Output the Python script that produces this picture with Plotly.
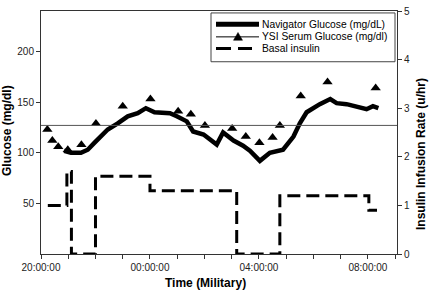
import plotly.graph_objects as go

# ---- data ----
nav_times = ["20:51", "21:06", "21:28", "21:43", "21:58", "22:12", "22:27", "22:49",
             "23:11", "23:33", "23:51", "00:10", "00:24", "00:44", "00:59", "01:21",
             "01:35", "01:58", "02:27", "02:41", "03:04", "03:25", "03:40", "04:02",
             "04:24", "04:53", "05:16", "05:30", "05:45", "06:14", "06:37", "06:51",
             "07:13", "07:35", "07:57", "08:11", "08:23"]
nav_glucose = [102, 100, 100, 103, 110, 116, 123, 129,
               136, 139, 144, 140, 140, 139, 136, 131,
               121, 118, 108, 120, 112, 107, 102, 92,
               100, 103, 116, 129, 140, 148, 153, 149,
               148, 146, 143, 146, 144]

ysi_times = ["20:14", "20:25", "20:38", "20:59", "21:29", "22:01", "23:00", "00:01",
             "01:02", "01:30", "02:01", "03:01", "03:31", "04:01", "04:30", "04:46",
             "05:32", "06:31", "08:17"]
ysi_glucose = [123, 112, 106, 103, 108, 129, 146, 153,
               141, 138, 127, 124, 116, 110, 115, 127,
               156, 170, 164]

insulin_times = ["20:15", "20:57", "21:07", "22:00", "00:00", "03:11", "04:46", "08:02", "08:20"]
insulin_rate = [1.0, 1.7, 0.0, 1.6, 1.3, 0.0, 1.2, 0.9, 0.9]

reference_glucose = 127

x_start, x_end = "20:00", "09:04"
tick_labels = ["20:00:00", "00:00:00", "04:00:00", "08:00:00"]
left_ticks = [50, 100, 150, 200]
right_ticks = [0, 1, 2, 3, 4, 5]
legend_labels = ["Navigator Glucose (mg/dL)", "YSI Serum Glucose (mg/dl)", "Basal insulin"]


def to_dt(t):
    h = int(t.split(":")[0])
    day = "2000-01-01" if h >= 20 else "2000-01-02"
    return f"{day} {t}"


FONT = "Liberation Sans, Arial, sans-serif"

# plot area in pixels: x 41..397, y 5..254
PL, PR, PT, PB = 41, 397, 5, 254


def px(xp):
    return (xp - PL) / (PR - PL)


def py(yp):
    return (PB - yp) / (PB - PT)


fig = go.Figure()

fig.add_trace(go.Scatter(
    x=[to_dt(t) for t in nav_times], y=nav_glucose, mode="lines",
    line=dict(color="black", width=4.5), name=legend_labels[0], showlegend=False))

fig.add_trace(go.Scatter(
    x=[to_dt(t) for t in ysi_times], y=ysi_glucose, mode="markers",
    marker=dict(symbol="triangle-up", size=9, color="black"),
    name=legend_labels[1], showlegend=False))

fig.add_trace(go.Scatter(
    x=[to_dt(t) for t in insulin_times], y=insulin_rate, mode="lines",
    line=dict(color="black", width=3, dash="13px,6px", shape="hv"),
    yaxis="y2", name=legend_labels[2], showlegend=False))

fig.add_shape(type="line", xref="paper", x0=0, x1=1, yref="y",
              y0=reference_glucose, y1=reference_glucose,
              line=dict(color="#555555", width=1))

# ---- legend box (drawn by hand for compact row spacing) ----
fig.add_shape(type="rect", xref="paper", yref="paper",
              x0=px(211), x1=px(395), y0=py(57), y1=py(7),
              line=dict(color="#444444", width=1), fillcolor="white")
rows = [18.5, 31.5, 43.5]
fig.add_shape(type="line", xref="paper", yref="paper",
              x0=px(216), x1=px(259), y0=py(rows[0]), y1=py(rows[0]),
              line=dict(color="black", width=5))
fig.add_shape(type="line", xref="paper", yref="paper",
              x0=px(216), x1=px(259), y0=py(rows[1]), y1=py(rows[1]),
              line=dict(color="black", width=1))
cx, cy = 238, rows[1]
fig.add_shape(type="path", xref="paper", yref="paper",
              path=f"M {px(cx-4.5)},{py(cy+3.5)} L {px(cx+4.5)},{py(cy+3.5)} L {px(cx)},{py(cy-4.5)} Z",
              line=dict(color="black", width=0.5), fillcolor="black")
fig.add_shape(type="line", xref="paper", yref="paper",
              x0=px(216), x1=px(252), y0=py(rows[2]), y1=py(rows[2]),
              line=dict(color="black", width=3, dash="15px,7px"))
for r, lab in zip(rows, legend_labels):
    fig.add_annotation(text=lab, xref="paper", yref="paper", x=px(260), y=py(r),
                       xanchor="left", yanchor="middle", showarrow=False,
                       font=dict(family=FONT, size=10.3, color="black"))

tickfont = dict(family=FONT, size=10, color="#222222")

fig.update_layout(
    width=429, height=292,
    margin=dict(l=PL, r=429 - PR, t=PT, b=292 - PB),
    paper_bgcolor="white", plot_bgcolor="white",
    font=dict(family=FONT, color="black"),
    showlegend=False,
    xaxis=dict(
        type="date", range=[to_dt(x_start), to_dt(x_end)],
        tickmode="array",
        tickvals=[to_dt(l[:5]) for l in tick_labels], ticktext=tick_labels,
        ticks="outside", ticklen=4, tickcolor="#333333",
        minor=dict(dtick=3600000, tick0=to_dt(x_start), ticks="outside",
                   ticklen=4, tickcolor="#333333"),
        showline=True, linecolor="#333333", linewidth=1, mirror=True,
        showgrid=False, zeroline=False, tickfont=tickfont,
        ticklabeloverflow="allow"),
    yaxis=dict(
        range=[0, 240], tickvals=left_ticks,
        ticks="outside", ticklen=4, tickcolor="#333333",
        showline=True, linecolor="#333333", linewidth=1,
        showgrid=False, zeroline=False, tickfont=tickfont,
        ticklabeloverflow="allow"),
    yaxis2=dict(
        range=[0, 5], tickvals=right_ticks, overlaying="y", side="right",
        ticks="outside", ticklen=4, tickcolor="#333333",
        showline=True, linecolor="#333333", linewidth=1,
        showgrid=False, zeroline=False, tickfont=tickfont,
        ticklabeloverflow="allow"),
)

title_font = dict(family=FONT, size=12, color="black")
fig.add_annotation(text="<b>Time (Military)</b>", xref="paper", yref="paper",
                   x=px(205), y=py(284),
                   showarrow=False, font=title_font, xanchor="center", yanchor="middle")
fig.add_annotation(text="<b>Glucose (mg/dl)</b>", xref="paper", yref="paper",
                   x=px(7), y=py(128), textangle=-90,
                   showarrow=False, font=title_font, xanchor="center", yanchor="middle")
fig.add_annotation(text="<b>Insulin Infusion Rate (u/hr)</b>", xref="paper", yref="paper",
                   x=px(421), y=py(151.5), textangle=-90,
                   showarrow=False, font=title_font, xanchor="center", yanchor="middle")

fig.write_html("out.html", config={"displayModeBar": False},
               post_script="document.body.style.margin='0';document.body.style.overflow='hidden';")
